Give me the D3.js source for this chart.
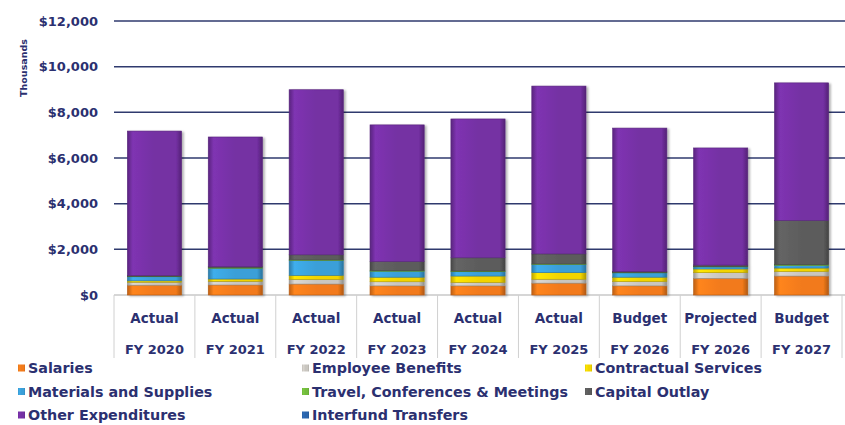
<!DOCTYPE html>
<meta charset="utf-8">

<head>
  <script src="https://d3js.org/d3.v7.min.js"></script>
  <style>
    body {
      margin: 0;
      background: #fff;
    }

    text {
      font-family: "DejaVu Sans", sans-serif;
      font-weight: 700;
      fill: #2b3070;
    }
  </style>
</head>

<body>
  <svg id="chart"></svg>
</body>
<script>
  // categories (two-line labels)
  const kinds = ["Actual", "Actual", "Actual", "Actual", "Actual", "Actual", "Budget", "Projected", "Budget"]
  const years = ["FY 2020", "FY 2021", "FY 2022", "FY 2023", "FY 2024", "FY 2025", "FY 2026", "FY 2026", "FY 2027"]

  // values in thousands
  const salaries     = [430, 440, 480, 400, 400, 520, 400, 730, 830]
  const benefits     = [130, 160, 200, 180, 150, 170, 190, 250, 200]
  const contractual  = [60, 100, 180, 200, 280, 290, 190, 160, 150]
  const materials    = [180, 470, 650, 260, 190, 350, 190, 90, 110]
  const travel       = [20, 30, 30, 30, 30, 30, 20, 20, 40]
  const capital      = [30, 40, 220, 390, 580, 440, 40, 60, 1930]
  const other        = [6330, 5680, 7230, 5990, 6080, 7350, 6280, 5130, 6030]
  const interfund    = [0, 0, 0, 0, 0, 0, 0, 0, 0]

  const seriesNames = ["Salaries", "Employee Benefits", "Contractual Services", "Materials and Supplies",
    "Travel, Conferences & Meetings", "Capital Outlay", "Other Expenditures", "Interfund Transfers"]
  const seriesValues = [salaries, benefits, contractual, materials, travel, capital, other, interfund]
  const colors = ["#f27a1a", "#c9c6c0", "#f2d400", "#3a9fd8", "#72bb3c", "#5c5c5c", "#7430a3", "#2a64ab"]

  const yTicks = [0, 2000, 4000, 6000, 8000, 10000, 12000]

  const width = 845, height = 425
  const margin = { top: 21, right: 3, bottom: 130, left: 114 }

  const svg = d3.select("#chart").attr("width", width).attr("height", height)

  const rows = kinds.map((k, i) => {
    let r = { key: i }
    seriesNames.forEach((s, j) => r[s] = seriesValues[j][i])
    return r
  })
  const stacked = d3.stack().keys(seriesNames)(rows)

  const x = d3.scaleBand()
    .domain(d3.range(kinds.length))
    .range([margin.left, width - margin.right])
    .paddingInner(0.33).paddingOuter(0.165)
  const xb = d3.scaleBand().domain(d3.range(kinds.length)).range([margin.left, width - margin.right])
  const y = d3.scaleLinear().domain([0, 12000]).range([height - margin.bottom, margin.top])

  // gradients for the bevelled look
  const defs = svg.append("defs")
  colors.forEach((c, i) => {
    const g = defs.append("linearGradient").attr("id", "g" + i)
    const base = d3.color(c)
    g.append("stop").attr("offset", "0%").attr("stop-color", base.darker(0.7))
    g.append("stop").attr("offset", "10%").attr("stop-color", base.brighter(0.25))
    g.append("stop").attr("offset", "50%").attr("stop-color", base)
    g.append("stop").attr("offset", "90%").attr("stop-color", base)
    g.append("stop").attr("offset", "100%").attr("stop-color", base.darker(0.9))
  })
  defs.append("filter").attr("id", "shadow")
    .append("feDropShadow").attr("dx", 2).attr("dy", 1).attr("stdDeviation", 1.2)
    .attr("flood-color", "#000").attr("flood-opacity", 0.3)

  // gridlines
  svg.append("g")
    .selectAll("line")
    .data(yTicks)
    .join("line")
    .attr("x1", margin.left)
    .attr("x2", width)
    .attr("y1", d => y(d))
    .attr("y2", d => y(d))
    .attr("stroke", d => d == 0 ? "#c8c8c8" : "#2f3a6e")
    .attr("stroke-width", 1.5)

  // y axis labels
  svg.append("g")
    .selectAll("text")
    .data(yTicks)
    .join("text")
    .attr("x", 98)
    .attr("y", d => y(d))
    .attr("dy", "0.35em")
    .attr("text-anchor", "end")
    .style("font-size", "13px")
    .text(d => "$" + d3.format(",")(d))

  svg.append("text")
    .attr("transform", "translate(27,68) rotate(-90)")
    .attr("text-anchor", "middle")
    .style("font-size", "9.5px")
    .text("Thousands")

  // bars
  const barG = svg.append("g").attr("filter", "url(#shadow)")
  stacked.forEach((layer, j) => {
    barG.append("g")
      .selectAll("rect")
      .data(layer.filter(d => d[1] > d[0]))
      .join("rect")
      .attr("x", d => x(d.data.key))
      .attr("width", x.bandwidth())
      .attr("y", d => y(d[1]))
      .attr("height", d => y(d[0]) - y(d[1]))
      .attr("fill", "url(#g" + j + ")")
      .attr("stroke", d3.color(colors[j]).darker(0.8))
      .attr("stroke-width", 0.6)
  })

  // category table
  const cat = svg.append("g")
  const bounds = d3.range(kinds.length + 1).map(i => i < kinds.length ? xb(i) : xb(i - 1) + xb.bandwidth())
  cat.selectAll("line")
    .data(bounds)
    .join("line")
    .attr("x1", d => d).attr("x2", d => d)
    .attr("y1", y(0)).attr("y2", 358)
    .attr("stroke", "#d0d0d0")
    .attr("stroke-width", 1)
  cat.selectAll("text.k")
    .data(kinds)
    .join("text")
    .attr("class", "k")
    .attr("x", (d, i) => xb(i) + xb.bandwidth() / 2)
    .attr("y", 318)
    .attr("dy", "0.35em")
    .attr("text-anchor", "middle")
    .style("font-size", "13.5px")
    .text(d => d)
  cat.selectAll("text.y")
    .data(years)
    .join("text")
    .attr("class", "y")
    .attr("x", (d, i) => xb(i) + xb.bandwidth() / 2)
    .attr("y", 349)
    .attr("dy", "0.35em")
    .attr("text-anchor", "middle")
    .style("font-size", "13px")
    .text(d => d)

  // legend
  const colX = [18, 302, 585]
  const legend = svg.append("g")
  seriesNames.forEach((s, i) => {
    const lx = colX[i % 3], ly = 368 + Math.floor(i / 3) * 23.5
    legend.append("rect")
      .attr("x", lx).attr("y", ly - 3.5)
      .attr("width", 7).attr("height", 7)
      .attr("fill", "url(#g" + i + ")")
    legend.append("text")
      .attr("x", lx + 10).attr("y", ly)
      .attr("dy", "0.35em")
      .style("font-size", "14.3px")
      .text(s)
  })
</script>
